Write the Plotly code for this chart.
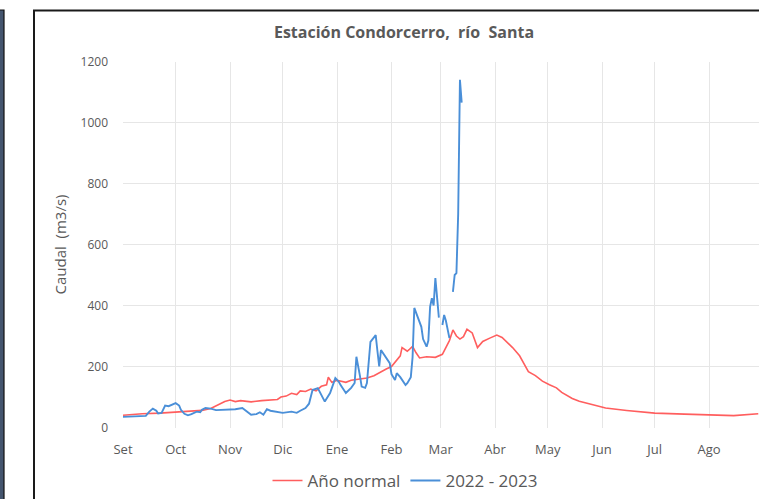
import plotly.graph_objects as go

# Month ticks (hydrological year Sep–Aug)
month_starts = ["2022-09-01", "2022-10-01", "2022-11-01", "2022-12-01", "2023-01-01",
                "2023-02-01", "2023-03-01", "2023-04-01", "2023-05-01", "2023-06-01",
                "2023-07-01", "2023-08-01"]
month_labels = ["Set", "Oct", "Nov", "Dic", "Ene", "Feb", "Mar", "Abr", "May", "Jun", "Jul", "Ago"]

# Año normal (m3/s)
normal_dates = [
    "2022-09-01", "2022-09-05", "2022-09-12", "2022-09-22", "2022-10-01", "2022-10-09",
    "2022-10-16", "2022-10-21", "2022-10-26", "2022-10-29", "2022-11-01", "2022-11-04",
    "2022-11-07", "2022-11-13", "2022-11-19", "2022-11-24", "2022-11-28", "2022-11-30",
    "2022-12-03", "2022-12-06", "2022-12-09", "2022-12-11", "2022-12-14", "2022-12-17",
    "2022-12-20", "2022-12-23", "2022-12-26", "2022-12-27", "2022-12-29", "2023-01-01",
    "2023-01-06", "2023-01-09", "2023-01-14", "2023-01-18", "2023-01-22", "2023-01-25",
    "2023-01-29", "2023-02-01", "2023-02-03", "2023-02-06", "2023-02-07", "2023-02-10",
    "2023-02-11", "2023-02-13", "2023-02-15", "2023-02-17", "2023-02-21", "2023-02-26",
    "2023-03-02", "2023-03-04", "2023-03-06", "2023-03-08", "2023-03-10", "2023-03-12",
    "2023-03-14", "2023-03-16", "2023-03-19", "2023-03-22", "2023-03-25", "2023-03-29",
    "2023-04-02", "2023-04-05", "2023-04-08", "2023-04-11", "2023-04-15", "2023-04-17",
    "2023-04-20", "2023-04-24", "2023-04-28", "2023-05-02", "2023-05-06", "2023-05-09",
    "2023-05-12", "2023-05-15", "2023-05-19", "2023-05-27", "2023-06-03", "2023-06-15",
    "2023-07-01", "2023-07-18", "2023-07-31", "2023-08-15", "2023-08-29",
]
normal_values = [
    40, 42, 45, 47, 50, 52,
    56, 62, 78, 85, 90, 85,
    88, 84, 88, 90, 92, 100,
    103, 112, 108, 120, 118, 126,
    120, 135, 140, 165, 148, 155,
    148, 155, 158, 162, 170, 180,
    192, 200, 215, 235, 262, 250,
    255, 266, 245, 228, 232, 230,
    240, 262, 285, 320, 300, 290,
    298, 322, 310, 262, 282, 293,
    303, 295, 280, 262, 235, 215,
    183, 170, 152, 140, 130, 115,
    104, 95, 86, 74, 64, 56,
    47, 44, 41, 39, 45,
]

# 2022 - 2023 (m3/s); None marks days without record
season_dates = [
    "2022-09-01", "2022-09-08", "2022-09-14", "2022-09-16", "2022-09-18", "2022-09-20",
    "2022-09-21", "2022-09-23", "2022-09-25", "2022-09-27", "2022-09-29", "2022-10-01",
    "2022-10-03", "2022-10-04", "2022-10-06", "2022-10-08", "2022-10-10", "2022-10-13",
    "2022-10-15", "2022-10-16", "2022-10-18", "2022-10-21", "2022-10-24", "2022-10-29",
    "2022-11-04", "2022-11-08", "2022-11-10", "2022-11-13", "2022-11-16", "2022-11-18",
    "2022-11-20", "2022-11-22", "2022-11-24", "2022-11-28", "2022-12-01", "2022-12-06",
    "2022-12-09", "2022-12-11", "2022-12-14", "2022-12-16", "2022-12-18", "2022-12-21",
    "2022-12-23", "2022-12-25", "2022-12-28", "2022-12-29", "2022-12-31", "2023-01-02",
    "2023-01-03", "2023-01-06", "2023-01-09", "2023-01-11", "2023-01-12", "2023-01-14",
    "2023-01-15", "2023-01-17", "2023-01-18", "2023-01-20", "2023-01-23", "2023-01-24",
    "2023-01-25", "2023-01-26", "2023-01-28", "2023-01-31", "2023-02-01", "2023-02-03",
    "2023-02-04", "2023-02-06", "2023-02-09", "2023-02-10", "2023-02-12", "2023-02-13",
    "2023-02-14", "2023-02-16", "2023-02-18", "2023-02-19", "2023-02-21", "2023-02-22",
    "2023-02-23", "2023-02-24", "2023-02-25", "2023-02-26", "2023-02-27", "2023-02-28",
    "2023-03-01",
    "2023-03-02", "2023-03-03", "2023-03-04", "2023-03-06",
    "2023-03-07",
    "2023-03-08", "2023-03-09", "2023-03-10", "2023-03-11", "2023-03-12", "2023-03-13",
]
season_values = [
    35, 36, 38, 52, 62, 55,
    46, 48, 72, 70, 74, 80,
    72, 58, 45, 40, 44, 52,
    50, 58, 64, 62, 57, 58,
    60, 64, 55, 42, 44, 50,
    42, 60, 55, 52, 48, 52,
    48, 55, 64, 78, 123, 129,
    105, 85, 113, 130, 162, 150,
    139, 113, 130, 146, 232, 170,
    134, 130, 146, 281, 303, 250,
    200, 254, 235, 211, 175, 156,
    178, 165, 139, 145, 165, 230,
    392, 360, 330, 290, 265, 285,
    396, 424, 400, 490, 412, 360,
    None,
    336, 369, 350, 293,
    None,
    445, 500, 506, 700, 1140, 1065,
]

W, H = 759, 499
TXT = "#595959"
FONT = "Open Sans"


def px(x):
    return x / W


def py(y):
    return 1 - y / H


fig = go.Figure()
fig.add_trace(go.Scatter(x=normal_dates, y=normal_values, mode="lines", name="Año normal",
                         line=dict(color="#FF5E5E", width=1.6)))
fig.add_trace(go.Scatter(x=season_dates, y=season_values, mode="lines", name="2022 - 2023",
                         connectgaps=False, line=dict(color="#4A8FD8", width=1.9)))

fig.update_layout(
    width=W, height=H,
    margin=dict(l=0, r=0, t=0, b=0, pad=0, autoexpand=False),
    paper_bgcolor="white", plot_bgcolor="white",
    font=dict(family=FONT, color=TXT, size=13),
    title=dict(text="<b>Estación Condorcerro,  río  Santa</b>", x=px(404), y=py(32),
               xanchor="center", yanchor="middle", xref="paper", yref="paper",
               font=dict(family=FONT, size=16, color=TXT)),
    xaxis=dict(
        domain=[px(123), 1],
        range=["2022-09-01", "2023-08-29 10:00"],
        tickmode="array", tickvals=month_starts, ticktext=month_labels,
        showgrid=True, gridcolor="#E6E6E6", gridwidth=1,
        zeroline=False, showline=False, ticks="", automargin=False,
        ticklabelstandoff=12,
        tickfont=dict(size=13, color=TXT, family=FONT),
    ),
    yaxis=dict(
        domain=[py(427.5), py(61.5)],
        range=[0, 1200], tickvals=[0, 200, 400, 600, 800, 1000, 1200],
        showgrid=True, gridcolor="#E6E6E6", gridwidth=1,
        zeroline=False, showline=False, ticks="", automargin=False,
        ticklabelstandoff=14,
        tickfont=dict(size=12, color=TXT, family=FONT),
        title=dict(text="Caudal  (m3/s)", standoff=10,
                   font=dict(size=15, color=TXT, family=FONT)),
    ),
    legend=dict(orientation="h", x=px(405), y=py(481), xanchor="center", yanchor="middle",
                font=dict(size=17, color=TXT, family=FONT), itemwidth=30,
                bgcolor="rgba(0,0,0,0)"),
    shapes=[
        # dark side panel at the left edge
        dict(type="rect", xref="paper", yref="paper", x0=-0.01, x1=px(4), y0=-0.01, y1=py(10),
             fillcolor="#44556E", line=dict(color="#111111", width=1.2), layer="above"),
        # chart frame
        dict(type="rect", xref="paper", yref="paper", x0=px(34), x1=1.02, y0=-0.02, y1=py(10.5),
             fillcolor="rgba(0,0,0,0)", line=dict(color="#1A1A1A", width=2), layer="above"),
    ],
)

fig.write_html("out.html")
